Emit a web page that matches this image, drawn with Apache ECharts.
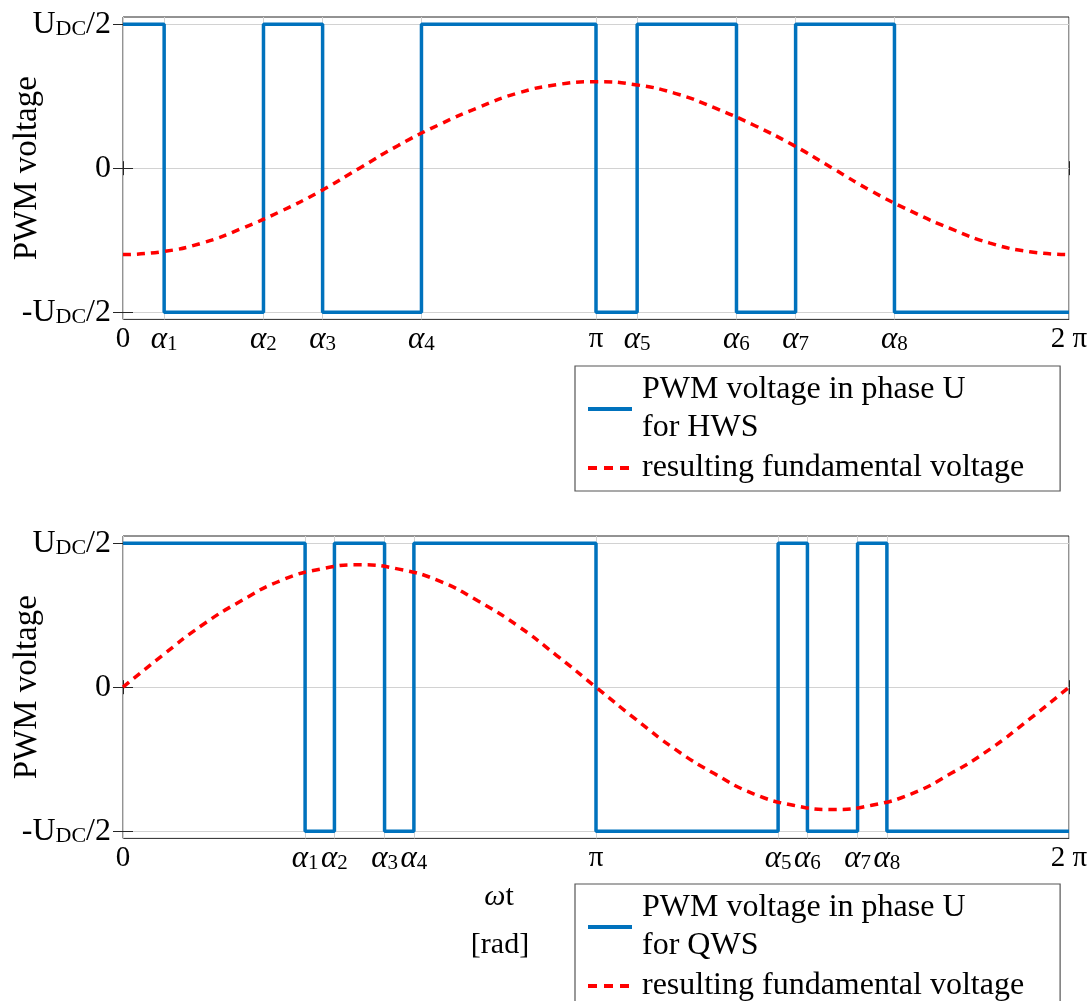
<!DOCTYPE html>
<html>
<head>
<meta charset="utf-8">
<script src="https://cdn.jsdelivr.net/npm/echarts@6/dist/echarts.min.js"></script>
<style>
  html, body { margin: 0; background: #fff; }
  #chart { width: 1091px; height: 1001px; }
</style>
</head>
<body>
<div id="chart"></div>
<script>
// switching angles alpha1..alpha8, in multiples of pi
const hwsAngles = [0.087, 0.297, 0.422, 0.631, 1.087, 1.297, 1.422, 1.631];
const qwsAngles = [0.385, 0.447, 0.553, 0.615, 1.385, 1.447, 1.553, 1.615];
// PWM level held from each edge: 0, a1..a4, pi, a5..a8, 2pi
const pwmLevels = [1, -1, 1, -1, 1, -1, 1, -1, 1, -1, -1];

// fundamental voltage, sampled every pi/12 (positions in multiples of pi)
const fundPos = [0, 0.083, 0.167, 0.25, 0.333, 0.417, 0.5, 0.583, 0.667, 0.75, 0.833, 0.917, 1,
  1.083, 1.167, 1.25, 1.333, 1.417, 1.5, 1.583, 1.667, 1.75, 1.833, 1.917, 2];
const hwsFund = [-0.60, -0.58, -0.52, -0.42, -0.30, -0.16, 0.00, 0.16, 0.30, 0.42, 0.52, 0.58, 0.60,
  0.58, 0.52, 0.42, 0.30, 0.16, 0.00, -0.16, -0.30, -0.42, -0.52, -0.58, -0.60];
const qwsFund = [0.00, 0.22, 0.43, 0.60, 0.74, 0.82, 0.85, 0.82, 0.74, 0.60, 0.43, 0.22, 0.00,
  -0.22, -0.43, -0.60, -0.74, -0.82, -0.85, -0.82, -0.74, -0.60, -0.43, -0.22, 0.00];

// tick labels
const xTickNames = ['0', 'α1', 'α2', 'α3', 'α4', 'π', 'α5', 'α6', 'α7', 'α8', '2 π'];
const yTickVals = [-1, 0, 1];
const yTickNames = ['-UDC/2', '0', 'UDC/2'];

const hwsName = 'PWM voltage in phase U\nfor HWS';
const qwsName = 'PWM voltage in phase U\nfor QWS';
const fundName = 'resulting fundamental voltage';

const SERIF = 'Liberation Serif';
const BLUE = '#0072BD';
const RED = '#FF0000';
const FRAME = '#262626';
const GRIDLINE = '#d2d2d2';
const PI = Math.PI;

// edge positions in radians: 0, a1..a4, pi, a5..a8, 2pi
const edges = angles => [0, ...angles.slice(0, 4), 1, ...angles.slice(4), 2].map(v => v * PI);

const xRich = {
  n: { fontFamily: SERIF, fontSize: 29, color: '#000' },
  a: { fontFamily: SERIF, fontSize: 31, fontStyle: 'italic', color: '#000' },
  s: { fontFamily: SERIF, fontSize: 21, color: '#000', verticalAlign: 'bottom' },
};

const yRich = {
  n: { fontFamily: SERIF, fontSize: 32, color: '#000' },
  s: { fontFamily: SERIF, fontSize: 22, color: '#000', verticalAlign: 'bottom' },
};

const xLabelFmt = ticks => value => {
  let idx = 0;
  ticks.forEach((t, i) => { if (Math.abs(t - value) < Math.abs(ticks[idx] - value)) idx = i; });
  const name = xTickNames[idx];
  if (name[0] === 'α') return `{a|α}{s|${name.slice(1)}}`;
  return `{n|${name}}`;
};

const yLabelFmt = value => {
  const name = yTickNames[yTickVals.indexOf(Math.round(value))];
  if (name === '0') return '{n|0}';
  return name.replace('UDC/2', '{n|U}{s|DC}{n|/2}').replace(/^-/, '{n|-}');
};

const tickStyle = { lineStyle: { color: FRAME, width: 1 } };

const makeAxes = (gridIndex, ticks) => {
  const xBase = { type: 'value', gridIndex, min: 0, max: 2 * PI, axisLine: { show: false } };
  const yBase = { type: 'value', gridIndex, min: -1.05, max: 1.05, axisLine: { show: false } };
  return {
    x: [
      {
        ...xBase,
        position: 'bottom',
        axisTick: { customValues: ticks, inside: true, length: 7, ...tickStyle },
        axisLabel: { customValues: ticks, margin: 5, formatter: xLabelFmt(ticks), rich: xRich },
        splitLine: { show: true, lineStyle: { color: GRIDLINE, width: 1 } },
      },
      {
        ...xBase,
        position: 'top',
        axisTick: { customValues: ticks, inside: true, length: 7, ...tickStyle },
        axisLabel: { show: false },
        splitLine: { show: false },
      },
    ],
    y: [
      {
        ...yBase,
        position: 'left',
        name: 'PWM voltage',
        nameLocation: 'middle',
        nameGap: 79,
        nameMoveOverlap: false,
        nameTextStyle: { fontFamily: SERIF, fontSize: 33, color: '#000' },
        axisTick: { customValues: yTickVals, inside: true, length: 10, ...tickStyle },
        axisLabel: { customValues: yTickVals, margin: 12, formatter: yLabelFmt, rich: yRich },
        splitLine: { show: true, lineStyle: { color: GRIDLINE, width: 1 } },
      },
      {
        ...yBase,
        position: 'right',
        axisTick: { customValues: yTickVals, inside: true, length: 10, ...tickStyle },
        axisLabel: { show: false },
        splitLine: { show: false },
      },
    ],
  };
};

const hwsEdges = edges(hwsAngles);
const qwsEdges = edges(qwsAngles);
const topAxes = makeAxes(0, hwsEdges);
const botAxes = makeAxes(1, qwsEdges);

const pwmData = edgeList => edgeList.map((x, i) => [x, pwmLevels[i]]);
const fundData = vals => fundPos.map((p, i) => [p * PI, vals[i]]);

const pwmSeries = (name, axisIdx, data) => ({
  name,
  type: 'line',
  xAxisIndex: axisIdx,
  yAxisIndex: axisIdx,
  step: 'end',
  symbol: 'none',
  data,
  lineStyle: { color: BLUE, width: 3.5 },
  itemStyle: { color: BLUE },
  z: 3,
});

const fundSeries = (axisIdx, data) => ({
  name: fundName,
  type: 'line',
  xAxisIndex: axisIdx,
  yAxisIndex: axisIdx,
  smooth: true,
  symbol: 'none',
  data,
  lineStyle: { color: RED, width: 3.5, type: [8, 6] },
  itemStyle: { color: RED },
  z: 4,
});

const legendBase = {
  orient: 'vertical',
  left: 575,
  itemWidth: 44,
  itemHeight: 14,
  itemGap: 2,
  padding: [5, 36, 4, 11],
  borderColor: '#555',
  borderWidth: 1.2,
  selectedMode: false,
  itemStyle: { opacity: 0 },
  lineStyle: { width: 4 },
  textStyle: { fontFamily: SERIF, fontSize: 32, lineHeight: 38, color: '#000', padding: [0, 0, 0, 5] },
};

// legend sample for the fundamental: three longer dashes
const fundLegendItem = { name: fundName, lineStyle: { width: 4, type: [9, 7] } };

const chart = echarts.init(document.getElementById('chart'), null, { renderer: 'canvas' });

chart.setOption({
  animation: false,
  backgroundColor: '#fff',
  grid: [
    { left: 123, top: 17, width: 946, height: 302.4, show: true, borderColor: FRAME, borderWidth: 1,
      outerBoundsMode: 'none', containLabel: false },
    { left: 123, top: 536, width: 946, height: 302.4, show: true, borderColor: FRAME, borderWidth: 1,
      outerBoundsMode: 'none', containLabel: false },
  ],
  xAxis: [...topAxes.x, ...botAxes.x],
  yAxis: [...topAxes.y, ...botAxes.y],
  legend: [
    { ...legendBase, top: 366, data: [hwsName, fundLegendItem] },
    { ...legendBase, top: 884, data: [qwsName, fundLegendItem] },
  ],
  graphic: [
    {
      type: 'text',
      x: 499,
      y: 897,
      style: {
        text: '{i|ω}{t|t}',
        align: 'center',
        verticalAlign: 'middle',
        rich: {
          i: { fontFamily: SERIF, fontSize: 30, fontStyle: 'italic', fill: '#000' },
          t: { fontFamily: SERIF, fontSize: 30, fill: '#000' },
        },
      },
    },
    {
      type: 'text',
      x: 500,
      y: 945,
      style: { text: '[rad]', font: `30px "${SERIF}"`, fill: '#000', align: 'center', verticalAlign: 'middle' },
    },
  ],
  series: [
    pwmSeries(hwsName, 0, pwmData(hwsEdges)),
    fundSeries(0, fundData(hwsFund)),
    pwmSeries(qwsName, 2, pwmData(qwsEdges)),
    fundSeries(2, fundData(qwsFund)),
  ],
});
</script>
</body>
</html>
